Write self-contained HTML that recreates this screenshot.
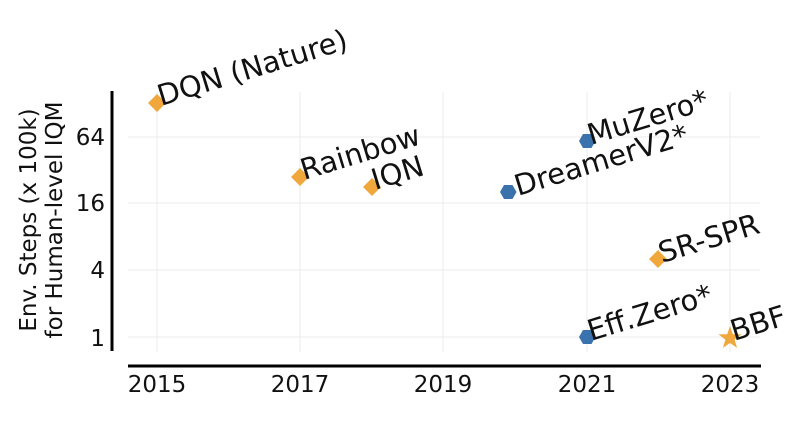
<!DOCTYPE html>
<html><head><meta charset="utf-8"><style>body{margin:0;background:#fff}</style></head><body>
<svg width="809" height="429" xmlns="http://www.w3.org/2000/svg" font-family="DejaVu Sans, sans-serif">
<rect width="809" height="429" fill="#fff"/>
<g stroke="#ebebeb" stroke-width="1">
<line x1="157" y1="92" x2="157" y2="352"/><line x1="300" y1="92" x2="300" y2="352"/>
<line x1="443" y1="92" x2="443" y2="352"/><line x1="587" y1="92" x2="587" y2="352"/>
<line x1="730" y1="92" x2="730" y2="352"/>
<line x1="128" y1="137" x2="760" y2="137"/><line x1="128" y1="203" x2="760" y2="203"/>
<line x1="128" y1="270" x2="760" y2="270"/><line x1="128" y1="337" x2="760" y2="337"/>
</g>
<line x1="112" y1="91" x2="112" y2="351" stroke="#000" stroke-width="3"/>
<line x1="128" y1="366" x2="761" y2="366" stroke="#000" stroke-width="3"/>
<g font-size="23" text-anchor="end" fill="#111">
<text x="105" y="145">64</text><text x="105" y="211">16</text><text x="105" y="278">4</text><text x="105" y="346">1</text>
</g>
<g font-size="23" text-anchor="middle" fill="#111">
<text x="157" y="392">2015</text><text x="300" y="392">2017</text><text x="443" y="392">2019</text><text x="587" y="392">2021</text><text x="730" y="392">2023</text>
</g>
<g font-size="23" text-anchor="middle" fill="#111">
<text transform="translate(36,220) rotate(-90)">Env. Steps (x 100k)</text>
<text transform="translate(62,220) rotate(-90)">for Human-level IQM</text>
</g>
<g fill="#f0a73c">
<polygon points="157,94 166,103 157,112 148,103"/>
<polygon points="300,168 309,177 300,186 291,177"/>
<polygon points="372,178 381,187 372,196 363,187"/>
<polygon points="658,250 667,259 658,268 649,259"/>
<polygon points="730,326 732.8,334.2 741.5,334.4 734.6,339.6 737.1,347.9 730,343 722.9,347.9 725.4,339.6 718.5,334.4 727.2,334.2"/>
</g>
<g fill="#3a72ad">
<polygon points="500,192 504,185 512.5,185 516.5,192 512.5,199 504,199"/>
<polygon points="579,141 583,134 591.5,134 595.5,141 591.5,148 583,148"/>
<polygon points="579,337 583,330 591.5,330 595.5,337 591.5,344 583,344"/>
</g>
<g font-size="29" fill="#111">
<text transform="translate(161,106) rotate(-17)">DQN (Nature)</text>
<text transform="translate(304,180) rotate(-17)">Rainbow</text>
<text transform="translate(375,190) rotate(-17)">IQN</text>
<text transform="translate(518,196) rotate(-17)">DreamerV2*</text>
<text transform="translate(591,145) rotate(-17)">MuZero*</text>
<text transform="translate(662,263) rotate(-17)">SR-SPR</text>
<text transform="translate(591,341) rotate(-17)">Eff.Zero*</text>
<text transform="translate(734,341) rotate(-17)">BBF</text>
</g>
</svg>
</body></html>
